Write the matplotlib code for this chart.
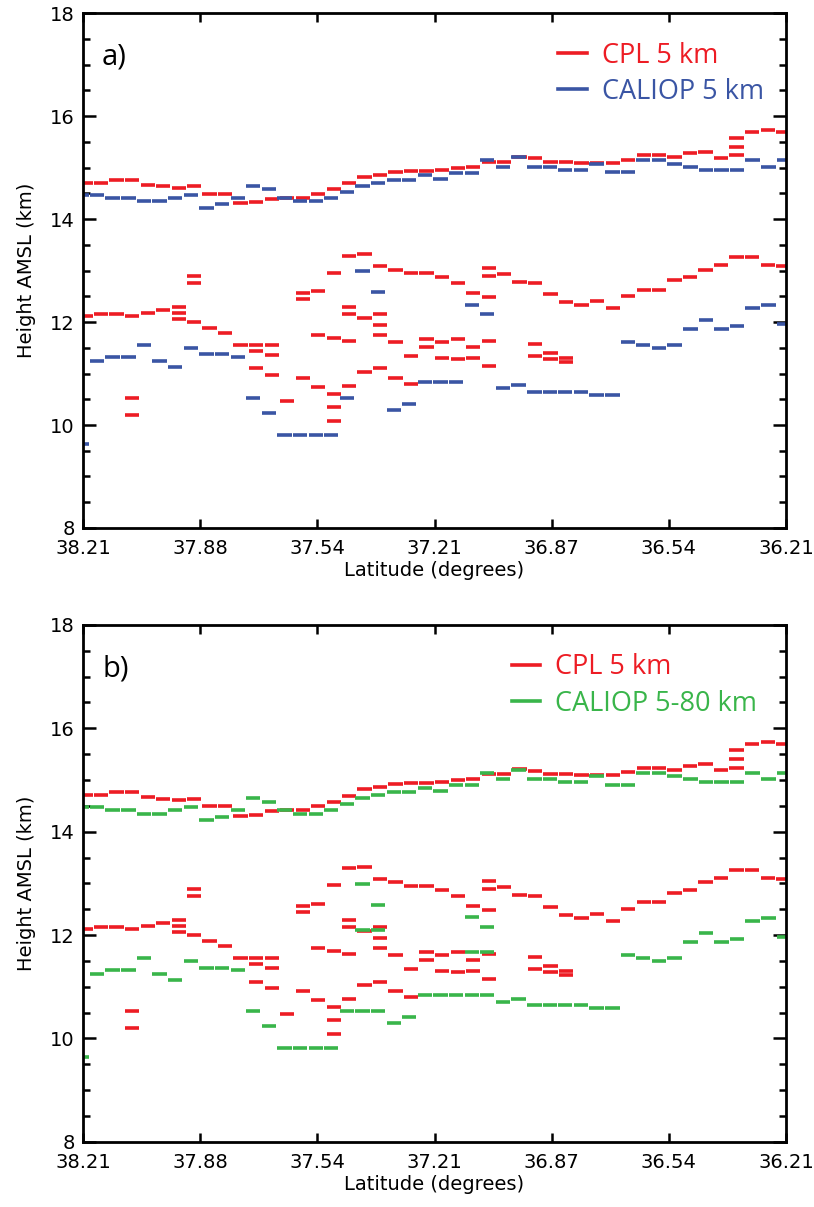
# Third-party library imports
import matplotlib.pyplot as plt
import numpy as np
from matplotlib.lines import Line2D

# ----- Matplotlib settings -----
plt.rcParams["font.family"] = "DejaVu Sans"
plt.rcParams["font.size"] = 14

# ----- Data -----
# bin centre latitudes (5 km along-track bins)
CPL_LAT = [
    38.203, 38.159, 38.115, 38.070, 38.026, 37.982, 37.938, 37.894, 37.850, 37.806,
    37.762, 37.718, 37.673, 37.629, 37.585, 37.541, 37.497, 37.453, 37.409, 37.365,
    37.321, 37.277, 37.233, 37.188, 37.144, 37.100, 37.056, 37.012, 36.968, 36.924,
    36.880, 36.836, 36.792, 36.748, 36.703, 36.659, 36.615, 36.571, 36.527, 36.483,
    36.439, 36.395, 36.351, 36.307, 36.262, 36.218,
]
CALIOP_LAT = [
    38.214, 38.170, 38.126, 38.081, 38.037, 37.992, 37.948, 37.903, 37.859, 37.815,
    37.770, 37.726, 37.681, 37.637, 37.593, 37.548, 37.504, 37.459, 37.415, 37.371,
    37.326, 37.282, 37.237, 37.193, 37.148, 37.104, 37.060, 37.015, 36.971, 36.926,
    36.882, 36.838, 36.793, 36.749, 36.704, 36.660, 36.616, 36.571, 36.527, 36.482,
    36.438, 36.393, 36.349, 36.305, 36.260, 36.216,
]
CPL_BIN = 0.0441
CALIOP_BIN = 0.0444

# layer heights (km) per bin
CPL_KM = [
    [14.71, 12.12], [14.71, 12.15], [14.76, 12.15], [14.76, 12.12, 10.53, 10.20],
    [14.67, 12.17], [14.64, 12.23], [14.61, 12.30, 12.17, 12.06],
    [14.64, 12.90, 12.75, 12.00], [14.49, 11.88], [14.49, 11.79], [14.31, 11.55],
    [14.33, 11.55, 11.43, 11.10], [14.40, 11.55, 11.36, 10.97], [14.42, 10.47],
    [14.42, 12.56, 12.45, 10.92], [14.49, 12.60, 11.75, 10.74],
    [14.58, 12.96, 11.69, 10.61, 10.35, 10.08],
    [14.70, 13.29, 12.30, 12.15, 11.63, 10.76], [14.82, 13.32, 12.08, 11.03],
    [14.86, 13.08, 12.15, 11.94, 11.75, 11.10], [14.92, 13.02, 11.61, 10.92],
    [14.94, 12.95, 11.34, 10.80], [14.94, 12.95, 11.67, 11.52],
    [14.96, 12.87, 11.61, 11.30], [15.00, 12.75, 11.67, 11.28],
    [15.02, 12.56, 11.52, 11.30], [15.12, 13.05, 12.90, 12.48, 11.63, 11.15],
    [15.12, 12.93], [15.21, 12.77], [15.18, 12.75, 11.57, 11.34],
    [15.12, 12.54, 11.40, 11.28], [15.12, 12.39, 11.30, 11.22], [15.09, 12.33],
    [15.09, 12.41], [15.09, 12.27], [15.15, 12.50], [15.24, 12.63], [15.24, 12.63],
    [15.20, 12.81], [15.28, 12.87], [15.31, 13.02], [15.19, 13.11],
    [15.58, 15.40, 15.24, 13.26], [15.70, 13.26], [15.74, 13.11], [15.70, 13.08],
]
CALIOP5_KM = [
    [14.47, 9.63], [14.47, 11.25], [14.41, 11.32], [14.41, 11.32], [14.35, 11.55],
    [14.35, 11.25], [14.41, 11.13], [14.47, 11.50], [14.22, 11.37], [14.29, 11.37],
    [14.41, 11.32], [14.65, 10.53], [14.58, 10.24], [14.41, 9.81], [14.35, 9.81],
    [14.35, 9.81], [14.41, 9.81], [14.53, 10.53], [14.65, 12.99], [14.71, 12.58],
    [14.77, 10.30], [14.77, 10.41], [14.85, 10.83], [14.78, 10.83], [14.90, 10.83],
    [14.90, 12.34], [15.14, 12.15], [15.02, 10.71], [15.20, 10.77], [15.02, 10.65],
    [15.02, 10.65], [14.96, 10.65], [14.96, 10.65], [15.07, 10.59], [14.91, 10.59],
    [14.91, 11.61], [15.14, 11.55], [15.14, 11.50], [15.07, 11.55], [15.02, 11.86],
    [14.96, 12.04], [14.96, 11.86], [14.96, 11.92], [15.14, 12.27], [15.02, 12.33],
    [15.14, 11.97],
]
CALIOP80_KM = [
    [14.47, 9.63], [14.47, 11.25], [14.41, 11.32], [14.41, 11.32], [14.35, 11.55],
    [14.35, 11.25], [14.41, 11.13], [14.47, 11.50], [14.22, 11.37], [14.29, 11.37],
    [14.41, 11.32], [14.65, 10.53], [14.58, 10.24], [14.41, 9.81], [14.35, 9.81],
    [14.35, 9.81], [14.41, 9.81], [14.53, 10.53], [14.65, 12.99, 12.10, 10.53],
    [14.71, 12.58, 12.10, 10.53], [14.77, 10.30], [14.77, 10.41], [14.85, 10.83],
    [14.78, 10.83], [14.90, 10.83], [14.90, 12.34, 11.68, 10.83],
    [15.14, 12.15, 11.68, 10.83], [15.02, 10.71], [15.20, 10.77], [15.02, 10.65],
    [15.02, 10.65], [14.96, 10.65], [14.96, 10.65], [15.07, 10.59], [14.91, 10.59],
    [14.91, 11.61], [15.14, 11.55], [15.14, 11.50], [15.07, 11.55], [15.02, 11.86],
    [14.96, 12.04], [14.96, 11.86], [14.96, 11.92], [15.14, 12.27], [15.02, 12.33],
    [15.14, 11.97],
]

LAT_TICKS = ["38.21", "37.88", "37.54", "37.21", "36.87", "36.54", "36.21"]

RED = "#ED1C24"
BLUE = "#3A55A4"
GREEN = "#39B54A"


# ----- Functions -----
def draw_bins(ax, lats, layers, width, color):
    xs0, xs1, ys = [], [], []
    for lat, heights in zip(lats, layers):
        for h in heights:
            xs0.append(lat + 0.46 * width)
            xs1.append(lat - 0.46 * width)
            ys.append(h)
    ax.hlines(ys, xs0, xs1, colors=color, linewidth=2.6)


def format_axes(ax):
    ax.set_xlim(38.21, 36.21)
    ax.set_ylim(8, 18)
    ax.set_xticks(np.linspace(38.21, 36.21, len(LAT_TICKS)))
    ax.set_xticklabels(LAT_TICKS)
    ax.set_yticks(np.arange(8, 19, 2))
    ax.set_yticks(np.arange(8, 18.01, 0.5), minor=True)
    ax.tick_params(which="both", direction="in", top=True, right=True, width=1.8)
    ax.tick_params(axis="x", length=6.5, pad=8)
    ax.tick_params(axis="y", which="major", length=9.5, pad=6)
    ax.tick_params(axis="y", which="minor", length=5)
    for spine in ax.spines.values():
        spine.set_linewidth(2)
    ax.set_xlabel("Latitude (degrees)", labelpad=2)
    ax.set_ylabel("Height AMSL (km)", labelpad=10)


def add_legend(ax, labels, colors, anchor):
    handles = [Line2D([], [], color=c, lw=2.6) for c in colors]
    ax.legend(
        handles,
        labels,
        loc="upper left",
        bbox_to_anchor=anchor,
        frameon=False,
        borderpad=0,
        borderaxespad=0,
        handlelength=1.05,
        handletextpad=0.55,
        labelspacing=0.3,
        labelcolor=colors,
        prop={"family": "Open Sans", "size": 19.5},
    )


# ----- Main -----
def main():
    fig = plt.figure(figsize=(8.14, 12.07), dpi=100)
    ax_a = fig.add_axes([0.1020, 0.5626, 0.8636, 0.4264])
    ax_b = fig.add_axes([0.1020, 0.0541, 0.8636, 0.4281])

    draw_bins(ax_a, CPL_LAT, CPL_KM, CPL_BIN, RED)
    draw_bins(ax_a, CALIOP_LAT, CALIOP5_KM, CALIOP_BIN, BLUE)
    draw_bins(ax_b, CPL_LAT, CPL_KM, CPL_BIN, RED)
    draw_bins(ax_b, CALIOP_LAT, CALIOP80_KM, CALIOP_BIN, GREEN)

    for ax, tag in zip([ax_a, ax_b], ["a)", "b)"]):
        format_axes(ax)
        ax.text(0.027, 0.915, tag, transform=ax.transAxes, va="center",
                family="Open Sans", fontsize=21)

    add_legend(ax_a, ["CPL 5 km", "CALIOP 5 km"], [RED, BLUE], (0.676, 0.945))
    add_legend(ax_b, ["CPL 5 km", "CALIOP 5-80 km"], [RED, GREEN], (0.61, 0.945))

    fig.savefig("out.png", dpi=100)


if __name__ == "__main__":
    main()
